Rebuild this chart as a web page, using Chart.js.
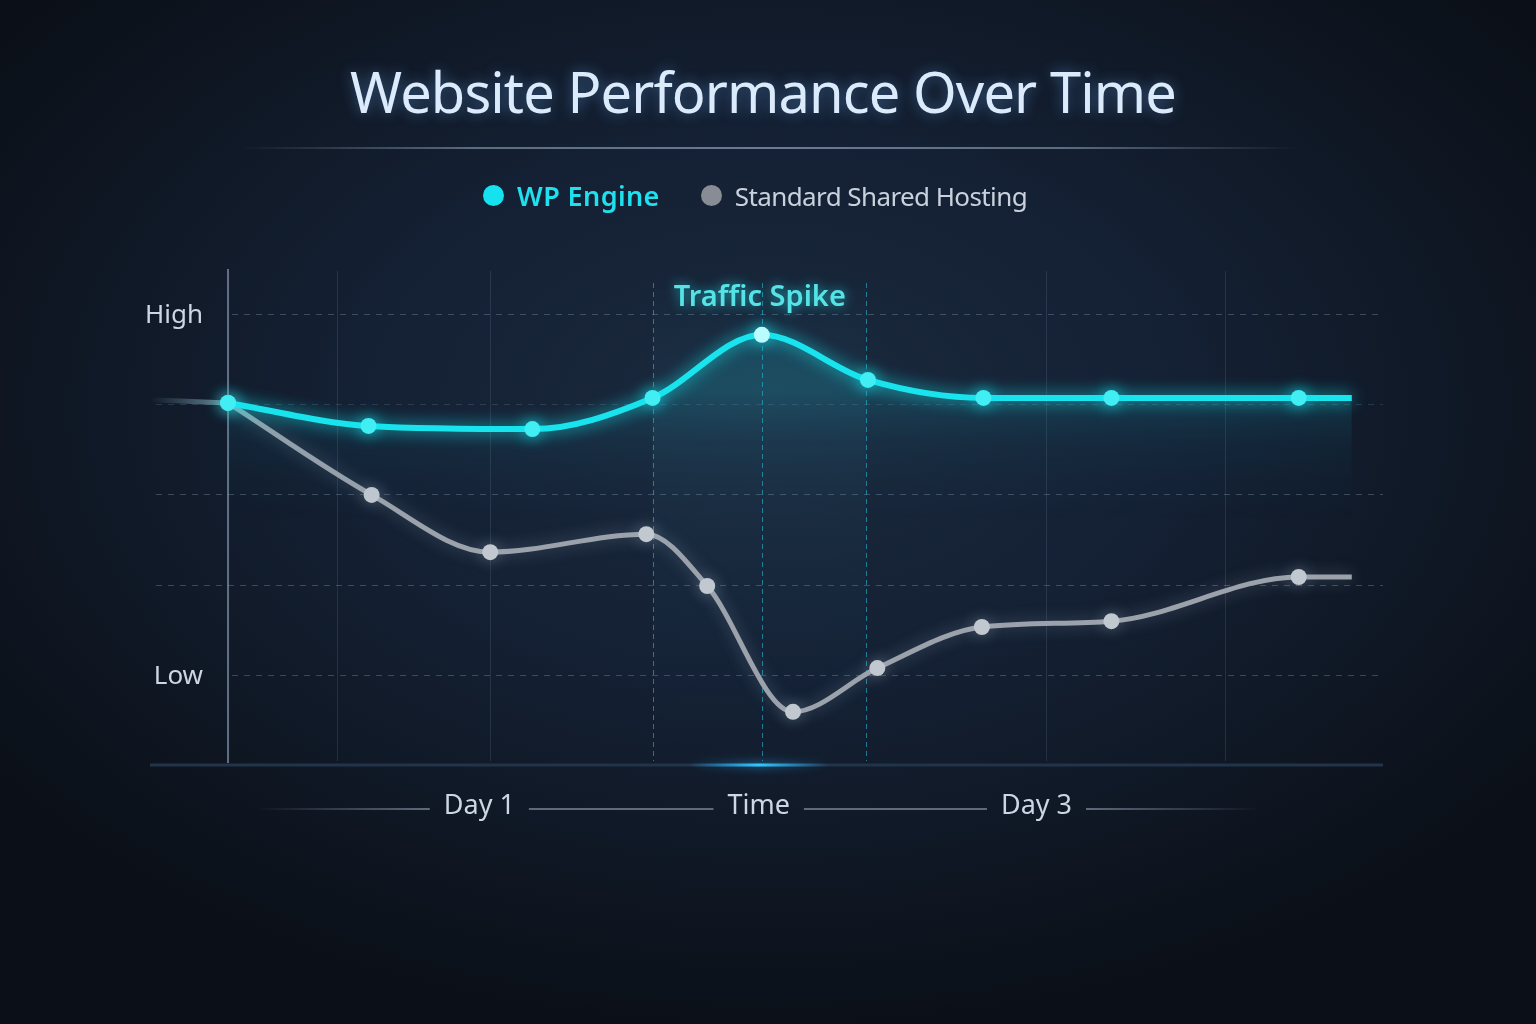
<!DOCTYPE html>
<html>
<head>
<meta charset="utf-8">
<title>Website Performance Over Time</title>
<script src="https://cdn.jsdelivr.net/npm/chart.js@4.4.1/dist/chart.umd.min.js"></script>
<style>
  html, body { margin: 0; padding: 0; }
  body {
    width: 1536px; height: 1024px; overflow: hidden;
    background: radial-gradient(ellipse 62% 60% at 50% 40%, #1b2a3e 0%, #142033 45%, #0b1018 100%);
    font-family: "Noto Sans", sans-serif;
  }
  #wrap { position: relative; width: 1536px; height: 1024px; }
  #chart { position: absolute; left: 0; top: 0; }
  h1 {
    position: absolute; left: -5px; top: 63px; width: 1536px; margin: 0;
    text-align: center; font-weight: 400; font-size: 56px; line-height: 1;
    letter-spacing: -0.9px;
    color: #dcebfb; text-shadow: 0 0 14px rgba(110, 180, 255, 0.45);
  }
  .rule {
    position: absolute; left: 240px; top: 147px; width: 1060px; height: 2px;
    background: linear-gradient(90deg, rgba(90,110,135,0), #5a6c82 22%, #6a7c92 50%, #5a6c82 78%, rgba(90,110,135,0));
  }
  #legend {
    position: absolute; left: 483px; top: 182px; display: flex; gap: 41px;
    font-size: 26px; line-height: 1;
  }
  #legend .item { display: flex; align-items: center; }
  #legend .dot { width: 21px; height: 21px; border-radius: 50%; margin-right: 13px; }
</style>
</head>
<body>
<div id="wrap">
  <canvas id="chart" width="1536" height="1024"></canvas>
  <h1>Website Performance Over Time</h1>
  <div class="rule"></div>
  <div id="legend"></div>
</div>
<script>
// hours from start of the test, performance 0..110 (High = 100, Low = 20)
const wpHours = [0, 9, 19.5, 27.2, 34.2, 41, 48.4, 56.6, 68.6, 72];
const wpPerf = [80.3, 75.2, 74.5, 81.4, 95.4, 85.4, 81.4, 81.4, 81.4, 81.4];
const sharedHours = [0, 9.2, 16.8, 26.8, 30.7, 36.2, 41.6, 48.3, 56.6, 68.6, 72];
const sharedPerf = [80.3, 59.9, 47.2, 51.2, 39.7, 11.8, 21.5, 30.6, 31.9, 41.7, 41.7];
const leadHours = [-5, 0];
const leadPerf = [81, 80.3];

const yTicks = [20, 40, 60, 80, 100];
const yTickLabels = ["Low", "", "", "", "High"];
const gridHours = [7, 16.8, 27.2, 34.2, 40.9, 52.4, 63.9];
const spikeWindow = [27.2, 40.9];
const spikeLabel = "Traffic Spike";
const xLabels = ["Day 1", "Time", "Day 3"];
const xLabelHours = [16.1, 34, 51.8];

const CYAN = "#19e4ee";
const GRAY = "#9ba2ab";
const TEXT = "#cdd6e2";

const toPoints = (xs, ys) => xs.map((x, i) => ({ x: x, y: ys[i] }));

function wpFill(context) {
  const { ctx, chartArea } = context.chart;
  if (!chartArea) return "rgba(0,0,0,0)";
  const g = ctx.createLinearGradient(0, 390, 0, 520);
  g.addColorStop(0, "rgba(30, 190, 210, 0.20)");
  g.addColorStop(0.4, "rgba(25, 140, 170, 0.08)");
  g.addColorStop(1, "rgba(20, 80, 110, 0)");
  return g;
}

function leadFade(context) {
  const { ctx, chartArea } = context.chart;
  if (!chartArea) return GRAY;
  const g = ctx.createLinearGradient(chartArea.left, 0, chartArea.left + 80, 0);
  g.addColorStop(0, "rgba(120, 150, 165, 0)");
  g.addColorStop(1, "rgba(130, 175, 185, 0.8)");
  return g;
}

// soft glow around a dataset's line and points
const glow = {
  id: "glow",
  beforeDatasetDraw(chart, args) {
    const c = chart.data.datasets[args.index].glowColor;
    if (!c) return;
    chart.ctx.save();
    chart.ctx.shadowColor = c;
    chart.ctx.shadowBlur = 16;
  },
  afterDatasetDraw(chart, args) {
    if (!chart.data.datasets[args.index].glowColor) return;
    chart.ctx.restore();
  }
};

// grid, axes and labels drawn under the lines
const backdrop = {
  id: "backdrop",
  beforeDatasetsDraw(chart) {
    const { ctx, chartArea: a, scales: { x, y } } = chart;
    ctx.save();

    // light band behind the spike
    const s0 = x.getPixelForValue(spikeWindow[0]);
    const s1 = x.getPixelForValue(spikeWindow[1]);
    const band = ctx.createLinearGradient(0, a.top, 0, a.bottom);
    band.addColorStop(0, "rgba(60, 130, 170, 0.02)");
    band.addColorStop(0.3, "rgba(60, 140, 170, 0.09)");
    band.addColorStop(1, "rgba(40, 90, 130, 0.02)");
    ctx.fillStyle = band;
    ctx.fillRect(s0, a.top + 20, s1 - s0, a.bottom - a.top - 22);

    // horizontal dashed grid
    const axisX = x.getPixelForValue(0);
    ctx.lineWidth = 1;
    ctx.setLineDash([6, 6]);
    yTicks.forEach((v, i) => {
      const py = Math.round(y.getPixelForValue(v)) + 0.5;
      ctx.strokeStyle = v === 80 ? "rgba(130,150,175,0.22)" : "rgba(130,150,175,0.38)";
      ctx.beginPath();
      ctx.moveTo(yTickLabels[i] ? axisX + 4 : a.left + 6, py);
      ctx.lineTo(a.right, py);
      ctx.stroke();
    });

    // vertical grid, dashed cyan inside the spike window
    gridHours.forEach((h) => {
      const px = Math.round(x.getPixelForValue(h)) + 0.5;
      const inSpike = h >= spikeWindow[0] && h <= spikeWindow[1];
      ctx.setLineDash(inSpike ? [5, 4] : []);
      ctx.strokeStyle = inSpike ? "rgba(40, 200, 230, 0.55)" : "rgba(110, 140, 170, 0.2)";
      ctx.beginPath();
      ctx.moveTo(px, inSpike ? a.top + 14 : a.top + 2);
      ctx.lineTo(px, a.bottom - 4);
      ctx.stroke();
    });
    ctx.setLineDash([]);

    // y axis
    ctx.strokeStyle = "rgba(140, 160, 185, 0.65)";
    ctx.lineWidth = 2;
    ctx.beginPath();
    ctx.moveTo(axisX, a.top);
    ctx.lineTo(axisX, a.bottom - 2);
    ctx.stroke();

    // x axis with a glow under the spike
    ctx.strokeStyle = "#23344a";
    ctx.lineWidth = 3;
    ctx.beginPath();
    ctx.moveTo(a.left, a.bottom);
    ctx.lineTo(a.right, a.bottom);
    ctx.stroke();
    const mid = x.getPixelForValue(34);
    const hot = ctx.createLinearGradient(mid - 70, 0, mid + 70, 0);
    hot.addColorStop(0, "rgba(30, 170, 255, 0)");
    hot.addColorStop(0.5, "rgba(50, 200, 255, 1)");
    hot.addColorStop(1, "rgba(30, 170, 255, 0)");
    ctx.strokeStyle = hot;
    ctx.shadowColor = "rgba(40, 180, 255, 0.9)";
    ctx.shadowBlur = 10;
    ctx.beginPath();
    ctx.moveTo(mid - 70, a.bottom);
    ctx.lineTo(mid + 70, a.bottom);
    ctx.stroke();
    ctx.shadowBlur = 0;

    // y labels
    ctx.font = "26px 'Noto Sans'";
    ctx.fillStyle = TEXT;
    ctx.textAlign = "right";
    ctx.textBaseline = "middle";
    yTicks.forEach((v, i) => {
      if (yTickLabels[i]) ctx.fillText(yTickLabels[i], axisX - 25, y.getPixelForValue(v) + 2);
    });

    // x labels joined by thin rules
    ctx.font = "27px 'Noto Sans'";
    ctx.textAlign = "center";
    const ly = a.bottom + 41;
    const spans = xLabels.map((t, i) => {
      const cx = x.getPixelForValue(xLabelHours[i]);
      const w = ctx.measureText(t).width;
      ctx.fillText(t, cx, ly);
      return [cx - w / 2 - 14, cx + w / 2 + 14];
    });
    ctx.lineWidth = 2;
    const rule = (x0, x1, fade) => {
      let st = "rgba(120, 135, 155, 0.75)";
      if (fade) {
        const g = ctx.createLinearGradient(x0, 0, x1, 0);
        g.addColorStop(fade < 0 ? 0 : 1, "rgba(120,135,155,0)");
        g.addColorStop(fade < 0 ? 1 : 0, "rgba(120,135,155,0.75)");
        st = g;
      }
      ctx.strokeStyle = st;
      ctx.beginPath();
      ctx.moveTo(x0, ly + 3);
      ctx.lineTo(x1, ly + 3);
      ctx.stroke();
    };
    rule(spans[0][0] - 175, spans[0][0], -1);
    for (let i = 0; i < spans.length - 1; i++) rule(spans[i][1], spans[i + 1][0]);
    rule(spans[spans.length - 1][1], spans[spans.length - 1][1] + 175, 1);

    ctx.restore();
  },
  afterDatasetsDraw(chart) {
    const { ctx, scales: { x, y } } = chart;
    const peak = Math.max(...wpPerf);
    const h = wpHours[wpPerf.indexOf(peak)];
    ctx.save();
    ctx.font = "600 29px 'Noto Sans'";
    ctx.fillStyle = "#55e3e6";
    ctx.shadowColor = "rgba(40, 220, 230, 0.7)";
    ctx.shadowBlur = 12;
    ctx.textAlign = "center";
    ctx.textBaseline = "middle";
    ctx.fillText(spikeLabel, x.getPixelForValue(h) - 2, y.getPixelForValue(peak) - 37);
    ctx.restore();
  }
};

const chart = new Chart(document.getElementById("chart"), {
  type: "line",
  data: {
    datasets: [
      {
        label: "WP Engine",
        data: toPoints(wpHours, wpPerf),
        borderColor: CYAN,
        borderWidth: 6,
        backgroundColor: wpFill,
        fill: "origin",
        cubicInterpolationMode: "monotone",
        pointRadius: wpHours.map((h, i) => (i === wpHours.length - 1 ? 0 : 8)),
        pointBackgroundColor: wpPerf.map((v) => (v === Math.max(...wpPerf) ? "#b8fcff" : "#40eef4")),
        pointBorderWidth: 0,
        glowColor: "rgba(20, 230, 240, 0.85)",
        legendColor: "#16e2ef",
        order: 0
      },
      {
        label: "Standard Shared Hosting",
        data: toPoints(sharedHours, sharedPerf),
        borderColor: GRAY,
        borderWidth: 5,
        fill: false,
        cubicInterpolationMode: "monotone",
        pointRadius: sharedHours.map((h, i) => (i === sharedHours.length - 1 ? 0 : 8)),
        pointBackgroundColor: "#c2c8d0",
        pointBorderWidth: 0,
        glowColor: "rgba(180, 200, 220, 0.35)",
        legendColor: "#878c95",
        order: 1
      },
      {
        label: "",
        data: toPoints(leadHours, leadPerf),
        borderColor: leadFade,
        borderWidth: 5,
        pointRadius: 0,
        fill: false,
        order: 2
      }
    ]
  },
  options: {
    responsive: false,
    devicePixelRatio: 1,
    animation: false,
    events: [],
    layout: { padding: { left: 150, right: 153, top: 269, bottom: 259 } },
    scales: {
      x: { type: "linear", min: -5, max: 74, display: false },
      y: { min: 0, max: 110, display: false }
    },
    plugins: {
      legend: { display: false },
      tooltip: { enabled: false }
    }
  },
  plugins: [backdrop, glow]
});

// html legend built from the datasets
const legendEl = document.getElementById("legend");
chart.data.datasets.filter((d) => d.label).forEach((d, i) => {
  const item = document.createElement("div");
  item.className = "item";
  const dot = document.createElement("span");
  dot.className = "dot";
  dot.style.background = d.legendColor;
  const txt = document.createElement("span");
  txt.textContent = d.label;
  txt.style.color = i === 0 ? "#1fe0ee" : "#c9d1dc";
  txt.style.fontWeight = i === 0 ? "600" : "400";
  txt.style.fontSize = i === 0 ? "27px" : "26px";
  txt.style.letterSpacing = i === 0 ? "0.4px" : "-0.6px";
  item.appendChild(dot);
  item.appendChild(txt);
  legendEl.appendChild(item);
});
</script>
</body>
</html>
